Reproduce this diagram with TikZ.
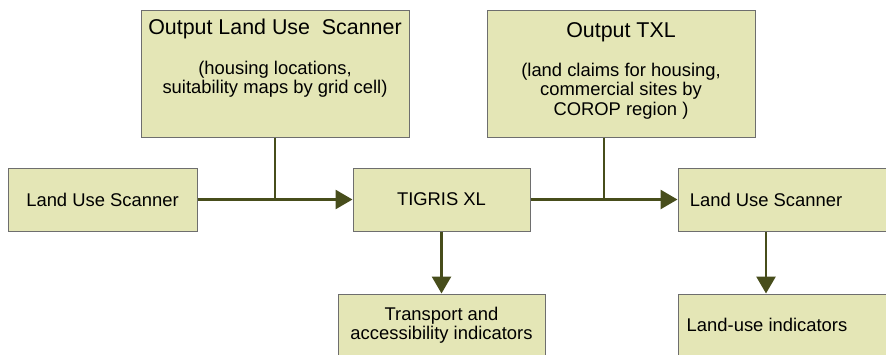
\documentclass[tikz,border=0pt]{standalone}
\usepackage{fontspec}
\setmainfont{Liberation Sans}
\usepackage{tikz}
\usetikzlibrary{positioning,calc,arrows.meta}

\definecolor{boxfill}{HTML}{E4E6B6}
\definecolor{boxline}{HTML}{6E6E6E}
\definecolor{flow}{HTML}{474D1B}

\tikzset{
  box/.style={shape=rectangle,draw=boxline,fill=boxfill,line width=0.5pt,inner sep=0pt},
  txt/.style={align=center,inner sep=0pt,font=\fontsize{9.2}{9.7}\selectfont},
  head/.style={align=center,inner sep=0pt,font=\fontsize{10.7}{12}\selectfont},
  link/.style={draw=flow,line width=1.4pt},
  flowto/.style={link,-{Triangle[length=8.5pt,width=9.5pt]}}
}

\begin{document}
\begin{tikzpicture}[x=0.5pt,y=-0.5pt]
\useasboundingbox (0,0) rectangle (886,354);

% boxes
\node[box,minimum width=134pt,minimum height=63.5pt] (olus) at (275,73.5) {};
\node[box,minimum width=134pt,minimum height=63.5pt] (otxl) at (621,73.5) {};
\node[box,minimum width=94.5pt,minimum height=31.5pt] (lus1) at (102.5,199.5) {};
\node[box,minimum width=88.5pt,minimum height=31.5pt] (tig) at (441.5,199.5) {};
\node[box,minimum width=111pt,minimum height=31.5pt] (lus2) at (789,199.5) {};
\node[box,minimum width=103.5pt,minimum height=38pt] (tai) at (441.5,332) {};
\node[box,minimum width=111pt,minimum height=38pt] (lui) at (789,332) {};

% texts
\node[head] (olush) at (275,29) {Output Land Use\ \ Scanner};
\node[txt] (olusb) at (275,79) {(housing locations,\\suitability maps by grid cell)};
\node[head] (otxlh) at (621,32) {Output TXL};
\node[txt] (otxlb) at (621,91) {(land claims for housing,\\commercial sites by\\COROP region )};
\node[txt] (lus1t) at (102.5,199.5) {Land Use Scanner};
\node[txt] (tigt) at (441.5,199.5) {TIGRIS XL};
\node[txt] (lus2t) at (766,199.5) {Land Use Scanner};
\node[txt] (tait) at (441.5,325) {Transport and\\accessibility indicators};
\node[txt] (luit) at (767,325) {Land-use indicators};

% junctions
\coordinate (j1) at (275,199.5);
\coordinate (j2) at (604,199.5);

\draw[link] (olus.south) -- (j1);
\draw[link] (otxl.south -| j2) -- (j2);
\draw[flowto] (lus1) -- (tig);
\draw[flowto] (tig) -- (lus2);
\draw[flowto] (tig) -- (tai);
\draw[flowto] (lus2.south -| lus2t) -- (lui.north -| lus2t);
\end{tikzpicture}
\end{document}
